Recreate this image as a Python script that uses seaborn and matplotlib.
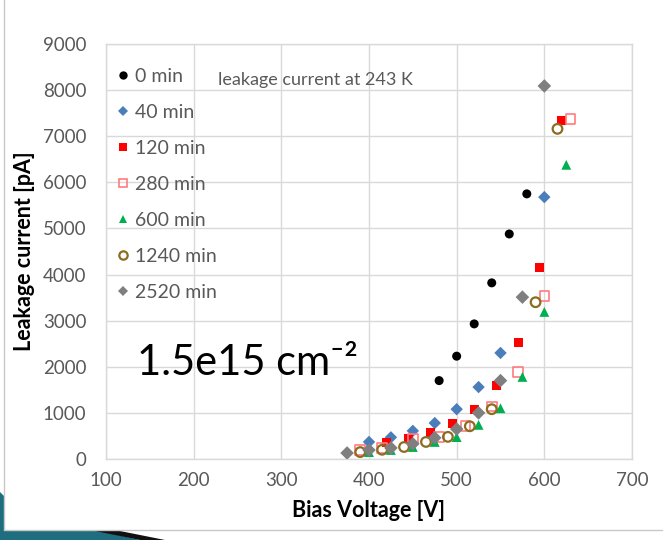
import matplotlib
matplotlib.use("Agg")
import matplotlib.pyplot as plt
import seaborn as sns
import pandas as pd
from matplotlib.patches import Polygon
from matplotlib.lines import Line2D

# ---- data ----
series_labels = ["0 min", "40 min", "120 min", "280 min", "600 min", "1240 min", "2520 min"]
v_0 = [480, 500, 520, 540, 560, 580]
i_0 = [1700, 2230, 2930, 3820, 4880, 5750]
v_40 = [400, 425, 450, 475, 500, 525, 550, 600]
i_40 = [370, 470, 610, 780, 1080, 1560, 2300, 5680]
v_120 = [420, 445, 470, 495, 520, 545, 570, 595, 620]
i_120 = [360, 450, 580, 780, 1080, 1600, 2520, 4160, 7350]
v_280 = [390, 415, 450, 480, 510, 540, 570, 600, 630]
i_280 = [200, 240, 430, 480, 710, 1140, 1890, 3530, 7370]
v_600 = [400, 425, 450, 475, 500, 525, 550, 575, 600, 625]
i_600 = [150, 195, 260, 370, 475, 740, 1100, 1780, 3190, 6380]
v_1240 = [390, 415, 440, 465, 490, 515, 540, 590, 615]
i_1240 = [150, 200, 260, 370, 480, 710, 1080, 3400, 7160]
v_2520 = [375, 400, 425, 450, 475, 500, 525, 550, 575, 600]
i_2520 = [130, 195, 240, 330, 460, 650, 1000, 1700, 3510, 8090]

x_ticks = [100, 200, 300, 400, 500, 600, 700]
y_ticks = [0, 1000, 2000, 3000, 4000, 5000, 6000, 7000, 8000, 9000]

voltages = [v_0, v_40, v_120, v_280, v_600, v_1240, v_2520]
currents = [i_0, i_40, i_120, i_280, i_600, i_1240, i_2520]

# styles
styles = [
    dict(marker="o", fc="#000000", ec="none", s=42, lw=0),
    dict(marker="D", fc="#4A7EBB", ec="none", s=40, lw=0),
    dict(marker="s", fc="#FF0000", ec="none", s=42, lw=0),
    dict(marker="s", fc="none", ec="#FF7C80", s=48, lw=1.2),
    dict(marker="^", fc="#00B050", ec="none", s=50, lw=0),
    dict(marker="o", fc="none", ec="#8C6D1F", s=48, lw=1.6),
    dict(marker="D", fc="#7F7F7F", ec="none", s=48, lw=0),
]

frames = []
for lab, v, c in zip(series_labels, voltages, currents):
    frames.append(pd.DataFrame({"V": v, "I": c, "series": lab}))
df = pd.concat(frames, ignore_index=True)

sns.set_theme(style="white")
plt.rcParams["font.family"] = ["Lato", "DejaVu Sans"]

fig = plt.figure(figsize=(6.63, 5.40), dpi=100)
fig.patch.set_facecolor("white")
ax = fig.add_axes([106 / 663, 1 - 459 / 540, (632 - 106) / 663, (459 - 44) / 540])

handles = []
for lab, st in zip(series_labels, styles):
    sub = df[df["series"] == lab]
    sns.scatterplot(data=sub, x="V", y="I", ax=ax, marker=st["marker"], s=st["s"],
                    facecolor=st["fc"], edgecolor=st["ec"], linewidth=st["lw"],
                    legend=False, zorder=3)
    handles.append(Line2D([], [], linestyle="none", marker=st["marker"],
                          markersize=6 if st["marker"] != "D" else 5.5,
                          markerfacecolor=st["fc"],
                          markeredgecolor=st["ec"] if st["ec"] != "none" else st["fc"],
                          markeredgewidth=st["lw"] if st["lw"] else 0))

ax.set_xlim(100, 700)
ax.set_ylim(0, 9000)
ax.set_xticks(x_ticks)
ax.set_yticks(y_ticks)
ax.set_xticklabels([str(t) for t in x_ticks])
ax.set_yticklabels([str(t) for t in y_ticks])
ax.grid(True, color="#D9D9D9", linewidth=1.0)
ax.set_axisbelow(True)
for sp in ax.spines.values():
    sp.set_color("#D9D9D9")
    sp.set_linewidth(1.0)
ax.tick_params(axis="both", length=0, labelsize=13.5, colors="#595959")
ax.tick_params(axis="y", pad=14)
ax.tick_params(axis="x", pad=9)

ax.set_xlabel("Bias Voltage [V]", fontsize=15.5, fontweight="bold", color="black", labelpad=8)
ax.set_ylabel("Leakage current [pA]", fontsize=15.5, fontweight="bold", color="black", labelpad=6)

leg = ax.legend(handles, series_labels, loc="upper left", bbox_to_anchor=(-0.016, 0.976),
                frameon=False, fontsize=14, labelspacing=0.98, handletextpad=0.0,
                handlelength=1.2, borderaxespad=0.3)
for t in leg.get_texts():
    t.set_color("#595959")

fig.text(218 / 663, 1 - 80 / 540, "leakage current at 243 K", fontsize=13,
         color="#595959", va="center", ha="left")
fig.text(137 / 663, 1 - 375 / 540, "1.5e15 cm\u207b\u00b2", fontsize=30, color="black",
         va="baseline", ha="left", family=["Lato", "DejaVu Sans"])

# slide frame and decoration
fig.add_artist(Line2D([4 / 663, 4 / 663], [1.0, 1 - 530 / 540], transform=fig.transFigure,
                      color="#C8C8C8", lw=1))
fig.add_artist(Line2D([4 / 663, 1.0], [1 - 530 / 540, 1 - 530 / 540], transform=fig.transFigure,
                      color="#C8C8C8", lw=1))
fig.add_artist(Polygon([[0, 1 - 492 / 540], [4 / 663, 1 - 496 / 540], [4 / 663, 1 - 531 / 540],
                        [100 / 663, 1 - 531 / 540], [140 / 663, 0.0], [0, 0]],
                       closed=True, transform=fig.transFigure, facecolor="#1F6E80",
                       edgecolor="none"))
fig.add_artist(Polygon([[95 / 663, 1 - 531 / 540], [120 / 663, 1 - 531 / 540],
                        [165 / 663, 0.0], [140 / 663, 0.0]],
                       closed=True, transform=fig.transFigure, facecolor="#111111",
                       edgecolor="none"))

fig.savefig("out.png", dpi=100, facecolor="white")
